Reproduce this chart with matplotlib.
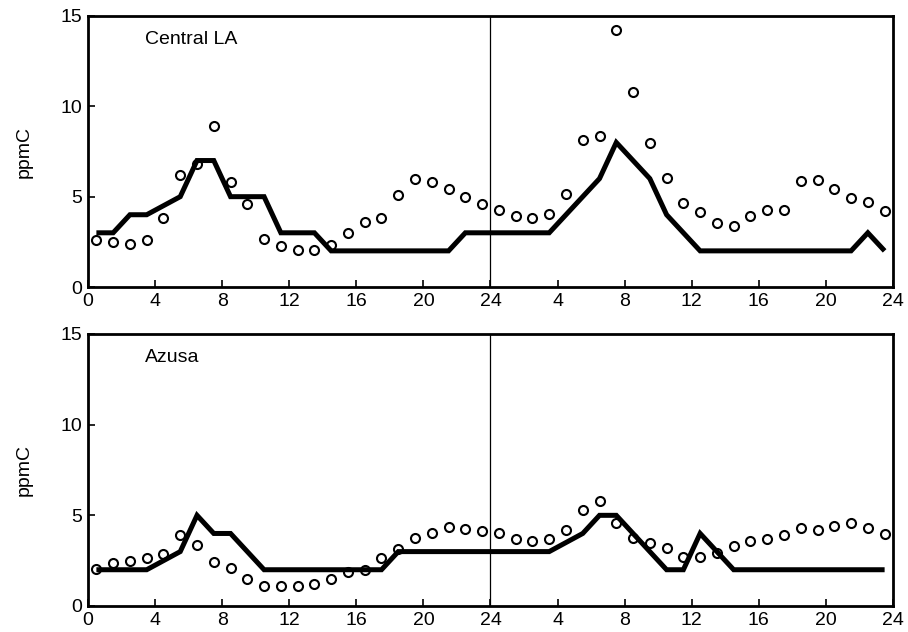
import numpy as np
import matplotlib
matplotlib.use("Agg")
import matplotlib.pyplot as plt

plt.rcParams['font.family'] = ['Liberation Sans', 'DejaVu Sans']

# Hour-of-period positions (two consecutive days, hourly means at half-hours)
hours = np.arange(0.5, 48, 1.0)

tick_positions = [0, 4, 8, 12, 16, 20, 24, 28, 32, 36, 40, 44, 48]
tick_labels = ["0", "4", "8", "12", "16", "20", "24", "4", "8", "12", "16", "20", "24"]

# Central LA: observed (line) and model (circles), ppmC
central_obs = [3, 3, 4, 4, 4.5, 5, 7, 7, 5, 5, 5, 3, 3, 3, 2, 2, 2, 2, 2, 2, 2, 2, 3, 3,
               3, 3, 3, 3, 4, 5, 6, 8, 7, 6, 4, 3, 2, 2, 2, 2, 2, 2, 2, 2, 2, 2, 3, 2]
central_model = [2.6, 2.5, 2.4, 2.6, 3.8, 6.2, 6.8, 8.9, 5.8, 4.6, 2.65, 2.25,
                 2.05, 2.05, 2.3, 3.0, 3.6, 3.8, 5.1, 6.0, 5.8, 5.4, 5.0, 4.6,
                 4.25, 3.95, 3.8, 4.05, 5.15, 8.15, 8.35, 14.2, 10.8, 7.95, 6.05, 4.65,
                 4.15, 3.55, 3.35, 3.95, 4.25, 4.25, 5.85, 5.95, 5.4, 4.9, 4.7, 4.2]

# Azusa: observed (line) and model (circles), ppmC
azusa_obs = [2, 2, 2, 2, 2.5, 3, 5, 4, 4, 3, 2, 2, 2, 2, 2, 2, 2, 2, 3, 3, 3, 3, 3, 3,
             3, 3, 3, 3, 3.5, 4, 5, 5, 4, 3, 2, 2, 4, 3, 2, 2, 2, 2, 2, 2, 2, 2, 2, 2]
azusa_model = [2.05, 2.35, 2.5, 2.65, 2.85, 3.9, 3.35, 2.4, 2.1, 1.5, 1.1, 1.1,
               1.1, 1.2, 1.5, 1.9, 2.0, 2.65, 3.15, 3.75, 4.05, 4.35, 4.25, 4.15,
               4.05, 3.7, 3.6, 3.7, 4.2, 5.3, 5.8, 4.55, 3.75, 3.5, 3.2, 2.7,
               2.7, 2.9, 3.3, 3.6, 3.7, 3.9, 4.3, 4.2, 4.4, 4.6, 4.3, 3.95]

panels = [
    ("Central LA", central_obs, central_model),
    ("Azusa", azusa_obs, azusa_model),
]

fig = plt.figure(figsize=(9.08, 6.32), dpi=100)
W, H = 908, 632
boxes = [(88, 16, 893, 287), (88, 334, 893, 606)]

for (name, obs, model), (x0, y0, x1, y1) in zip(panels, boxes):
    ax = fig.add_axes([x0 / W, 1 - y1 / H, (x1 - x0) / W, (y1 - y0) / H])
    ax.plot(hours, obs, color="black", lw=3.6, solid_joinstyle="miter",
            solid_capstyle="butt", zorder=3)
    ax.plot(hours, model, linestyle="none", marker="o", markersize=6.5,
            markerfacecolor="none", markeredgecolor="black",
            markeredgewidth=1.5, zorder=4)
    ax.axvline(24, color="black", lw=0.9, zorder=2)
    ax.set_xlim(0, 48)
    ax.set_ylim(0, 15)
    ax.set_xticks(tick_positions)
    ax.set_xticklabels(tick_labels)
    ax.set_yticks([0, 5, 10, 15])
    ax.tick_params(direction="in", length=5, width=1.2, labelsize=14,
                   top=False, right=False, pad=4)
    for sp in ax.spines.values():
        sp.set_linewidth(2.0)
    ax.set_ylabel("ppmC", fontsize=14, labelpad=20)
    ax.text(0.071, 0.915, name, transform=ax.transAxes, fontsize=14,
            ha="left", va="center")

fig.savefig("out.png", dpi=100)
